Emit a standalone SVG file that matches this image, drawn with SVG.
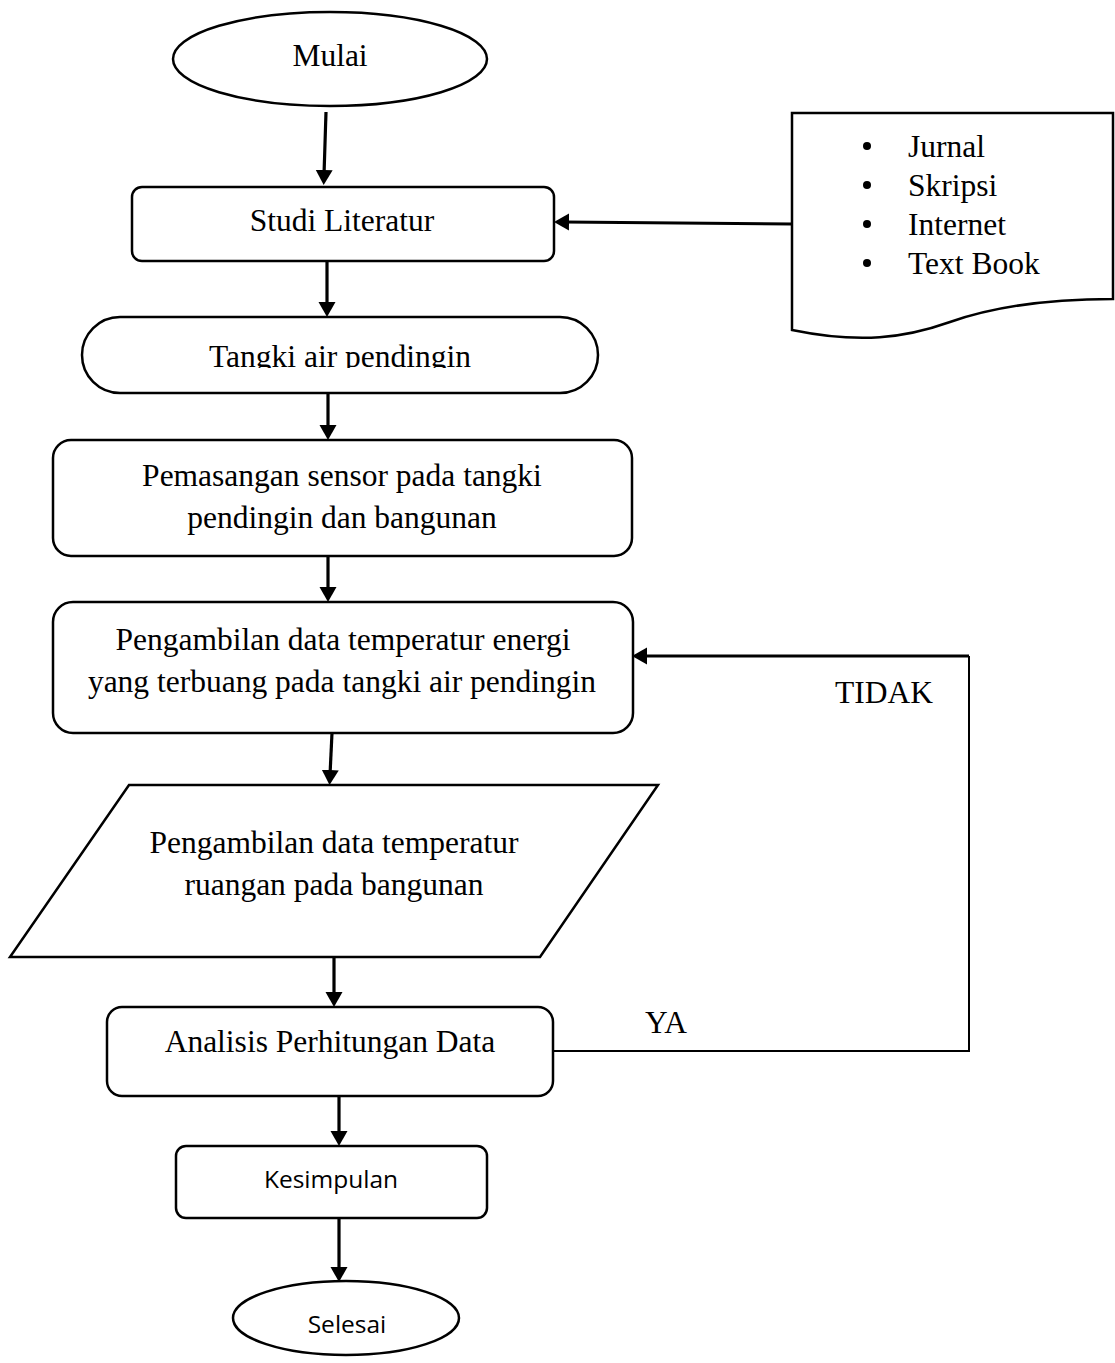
<svg xmlns="http://www.w3.org/2000/svg" width="1115" height="1363" viewBox="0 0 1115 1363">
<style>
.shape{fill:#fff;stroke:#000;stroke-width:2.5}
.t{font-family:"Liberation Serif","Times New Roman",serif;font-size:31.5px;fill:#000;text-anchor:middle}
.s{font-family:"Open Sans","Noto Sans",sans-serif;font-size:24.5px;fill:#000;text-anchor:middle}
.l{font-family:"Liberation Serif","Times New Roman",serif;font-size:31.5px;fill:#000}
.c{fill:none;stroke:#000;stroke-width:3.2}
</style>
<defs>
<marker id="ah" markerWidth="17" markerHeight="18" refX="5" refY="8.5" orient="auto" markerUnits="userSpaceOnUse">
<path d="M0,0 L15,8.5 L0,17 Z" fill="#000"/>
</marker>
<clipPath id="clipT"><rect x="82" y="317" width="516" height="51"/></clipPath>
</defs>
<rect width="1115" height="1363" fill="#fff"/>
<g id="connectors">
<line class="c" x1="326" y1="112" x2="324" y2="175" marker-end="url(#ah)"/>
<line class="c" x1="327" y1="261" x2="327" y2="307" marker-end="url(#ah)"/>
<line class="c" x1="328" y1="393" x2="328" y2="430" marker-end="url(#ah)"/>
<line class="c" x1="328" y1="556" x2="328" y2="592" marker-end="url(#ah)"/>
<line class="c" x1="332" y1="733" x2="330" y2="775" marker-end="url(#ah)"/>
<line class="c" x1="334" y1="957" x2="334" y2="997" marker-end="url(#ah)"/>
<line class="c" x1="339" y1="1096" x2="339" y2="1136" marker-end="url(#ah)"/>
<line class="c" x1="339" y1="1218" x2="339" y2="1272" marker-end="url(#ah)"/>
<line class="c" x1="792" y1="224" x2="564" y2="222" marker-end="url(#ah)"/>
<path d="M553,1051 L969,1051 L969,656" fill="none" stroke="#000" stroke-width="2"/>
<line class="c" x1="969" y1="656" x2="642" y2="656" marker-end="url(#ah)"/>
<text class="l" x="835" y="703">TIDAK</text>
<text class="l" x="645" y="1033">YA</text>
</g>
<g id="mulai">
<ellipse class="shape" cx="330" cy="59" rx="157" ry="47"/>
<text class="t" x="330" y="66">Mulai</text>
</g>
<g id="studi">
<rect class="shape" x="132" y="187" width="422" height="74" rx="10"/>
<text class="t" x="342" y="231">Studi Literatur</text>
</g>
<g id="sumber">
<path class="shape" d="M792,113 L1113,113 L1113,299 C1040,299 990,308 950,322 C905,338 860,344 792,330 Z"/>
<circle cx="867" cy="146" r="4"/>
<circle cx="867" cy="185" r="4"/>
<circle cx="867" cy="224" r="4"/>
<circle cx="867" cy="263" r="4"/>
<text class="l" x="908" y="157">Jurnal</text>
<text class="l" x="908" y="196">Skripsi</text>
<text class="l" x="908" y="235">Internet</text>
<text class="l" x="908" y="274">Text Book</text>
</g>
<g id="tangki">
<rect class="shape" x="82" y="317" width="516" height="76" rx="38"/>
<text class="t" x="340" y="367" clip-path="url(#clipT)">Tangki air pendingin</text>
</g>
<g id="pemasangan">
<rect class="shape" x="53" y="440" width="579" height="116" rx="18"/>
<text class="t" x="342" y="486">Pemasangan sensor pada tangki</text>
<text class="t" x="342" y="528">pendingin dan bangunan</text>
</g>
<g id="pengambilan1">
<rect class="shape" x="53" y="602" width="580" height="131" rx="20"/>
<text class="t" x="343" y="650">Pengambilan data temperatur energi</text>
<text class="t" x="342" y="692">yang terbuang pada tangki air pendingin</text>
</g>
<g id="pengambilan2">
<polygon class="shape" points="129,785 658,785 540,957 10,957"/>
<text class="t" x="334" y="853">Pengambilan data temperatur</text>
<text class="t" x="334" y="895">ruangan pada bangunan</text>
</g>
<g id="analisis">
<rect class="shape" x="107" y="1007" width="446" height="89" rx="15"/>
<text class="t" x="330" y="1052">Analisis Perhitungan Data</text>
</g>
<g id="kesimpulan">
<rect class="shape" x="176" y="1146" width="311" height="72" rx="10"/>
<text class="s" x="331" y="1188">Kesimpulan</text>
</g>
<g id="selesai">
<ellipse class="shape" cx="346" cy="1318" rx="113" ry="37"/>
<text class="s" x="347" y="1333">Selesai</text>
</g>
</svg>
